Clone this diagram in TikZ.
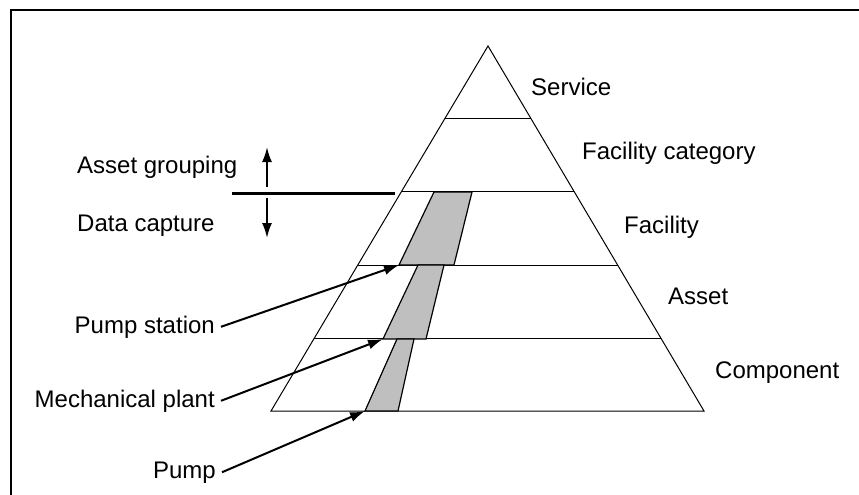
\documentclass[tikz,border=0pt]{standalone}
\usepackage{fontspec}
\setmainfont{Liberation Sans}
\usepackage{tikz}
\usetikzlibrary{arrows.meta, calc}
\tikzstyle{label} = [inner sep=0pt, font=\fontsize{24}{28}\selectfont]
\tikzstyle{tier} = [line width=1pt]
\tikzstyle{part} = [draw, line width=1.2pt, fill=black!25]
\tikzstyle{wire} = [-{Latex[length=15pt,width=10pt]}, line width=2pt]

\begin{document}
\begin{tikzpicture}[x=1pt, y=-1pt]
    \useasboundingbox (0,0) rectangle (859,495);
    \draw[line width=2.5pt] (11,495) -- (11,10) -- (859,10);
    % pyramid
    \coordinate (top) at (488,46);
    \coordinate (bl) at (271,411);
    \coordinate (br) at (704,411);
    \draw[tier] (bl) -- (top) -- (br) -- cycle;
    \foreach \t in {0.2,0.4,0.6,0.8}
      \draw[tier] ($(top)!\t!(bl)$) -- ($(top)!\t!(br)$);
    \draw[line width=3pt] (232,193) -- (395,193);
    % grey parts
    \draw[part] (434,192) -- (472,192) -- (454,265) -- (399,265) -- cycle;
    \draw[part] (418,265) -- (444,265) -- (426,339) -- (383,339) -- cycle;
    \draw[part] (397,339) -- (414,339) -- (398,411) -- (365,411) -- cycle;
    \coordinate (ps) at (399,265);
    \coordinate (mp) at (383,339);
    \coordinate (pu) at (365,411);
    % levels
    \node[label, anchor=base west] (serv) at (531,95) {Service};
    \node[label, anchor=base west] (fcat) at (582,159) {Facility category};
    \node[label, anchor=base west] (fac) at (624,233) {Facility};
    \node[label, anchor=base west] (asset) at (668,304) {Asset};
    \node[label, anchor=base west] (comp) at (715,378) {Component};
    \node[label, anchor=base west] (group) at (77,173) {Asset grouping};
    \node[label, anchor=base west] (capt) at (77,231) {Data capture};
    \node[label, anchor=base east] (pstat) at (215,333) {Pump station};
    \node[label, anchor=base east] (mech) at (215,407) {Mechanical plant};
    \node[label, anchor=base east] (pump) at (216,478) {Pump};
    \coordinate (up0) at (267,187);
    \coordinate (up1) at (267,147);
    \coordinate (dn0) at (267,198);
    \coordinate (dn1) at (267,238);
    \draw[wire] (up0) -- (up1);
    \draw[wire] (dn0) -- (dn1);
    \draw[wire] ([xshift=6pt]pstat.east) -- (ps);
    \draw[wire] ([xshift=6pt]mech.east) -- (mp);
    \draw[wire] ([xshift=6pt]pump.east) -- (pu);
\end{tikzpicture}
\end{document}
